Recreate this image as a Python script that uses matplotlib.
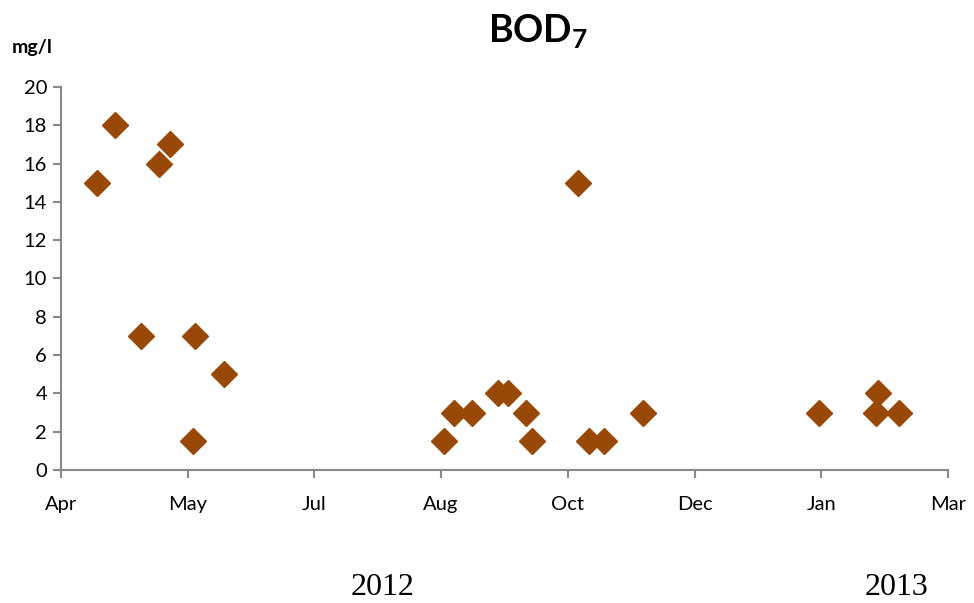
import numpy as np
import pandas as pd
import matplotlib
matplotlib.use("Agg")
import matplotlib.pyplot as plt
import matplotlib.dates as mdates

# sample dates and BOD7 values (mg/l)
dates = [
    "2012-04-15", "2012-04-22", "2012-05-02", "2012-05-09", "2012-05-13",
    "2012-05-22", "2012-05-23", "2012-06-03",
    "2012-08-27", "2012-08-31", "2012-09-07", "2012-09-17", "2012-09-21",
    "2012-09-28", "2012-09-30", "2012-10-18", "2012-10-22", "2012-10-28",
    "2012-11-12",
    "2013-01-19", "2013-02-10", "2013-02-11", "2013-02-19",
]
bod7 = [15, 18, 7, 16, 17, 1.5, 7, 5,
        1.5, 3, 3, 4, 4, 3, 1.5, 15, 1.5, 1.5, 3,
        3, 3, 4, 3]

axis_start = "2012-04-01"
tick_step_days = 49
n_ticks = 8
y_ticks = list(range(0, 21, 2))
year_labels = ["2012", "2013"]

x = pd.to_datetime(dates)
start = pd.Timestamp(axis_start)
ticks = [start + pd.Timedelta(days=tick_step_days * k) for k in range(n_ticks)]

plt.rcParams["font.family"] = ["Lato", "DejaVu Sans"]
plt.rcParams["mathtext.fontset"] = "custom"
plt.rcParams["mathtext.bf"] = "Lato:bold"
plt.rcParams["mathtext.rm"] = "Lato"
grey = "#898989"

fig = plt.figure(figsize=(9.74, 6.03), dpi=100)
ax = fig.add_axes([0.0626, 0.2206, 0.9107, 0.6351])

ax.plot(x, bod7, linestyle="none", marker="D", markersize=13.5,
        color="#984807", markeredgecolor="#984807")

ax.set_xlim(ticks[0], ticks[-1])
ax.set_xticks(ticks)
ax.xaxis.set_major_formatter(mdates.DateFormatter("%b"))
ax.set_ylim(0, 20)
ax.set_yticks(y_ticks)

for side in ("top", "right"):
    ax.spines[side].set_visible(False)
for side in ("left", "bottom"):
    ax.spines[side].set_color(grey)
    ax.spines[side].set_linewidth(1.5)
ax.tick_params(axis="both", direction="out", length=6, width=1.5,
               color=grey, labelsize=14.5, labelcolor="black")
ax.tick_params(axis="x", pad=13)
ax.tick_params(axis="y", pad=4)

fig.text(0.552, 0.948, r"$\mathbf{BOD_7}$", ha="center", va="center",
         fontsize=27)
fig.text(0.033, 0.922, "mg/l", ha="center", va="center",
         fontsize=14, fontweight="bold")

for lbl, xp in zip(year_labels, [0.393, 0.921]):
    fig.text(xp, 0.025, lbl, ha="center", va="center",
             fontsize=23, family="Liberation Serif")

fig.savefig("out.png", dpi=100)
